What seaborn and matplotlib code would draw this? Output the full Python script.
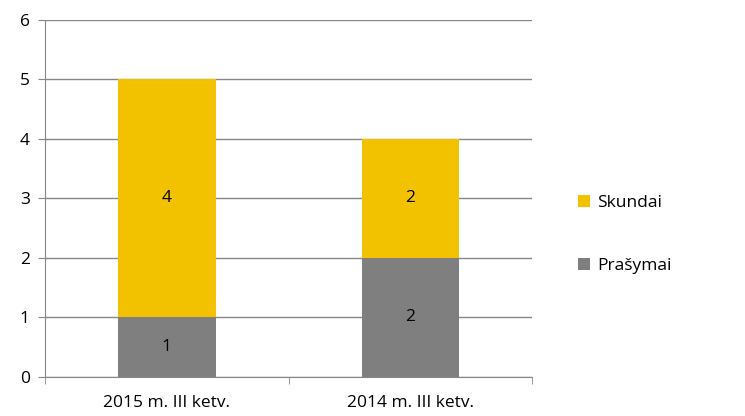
import pandas as pd
import numpy as np
import matplotlib
matplotlib.use("Agg")
import matplotlib.pyplot as plt
import seaborn as sns

# data
categories = ["2015 m. III ketv.", "2014 m. III ketv."]
prasymai = [1, 2]
skundai = [4, 2]

sns.set_style("white")
plt.rcParams["font.family"] = ["Open Sans", "DejaVu Sans"]
plt.rcParams["text.color"] = "black"
plt.rcParams["xtick.color"] = "black"
plt.rcParams["ytick.color"] = "black"

df = pd.DataFrame({"cat": categories, "Prašymai": prasymai, "Skundai": skundai})
df["total"] = df["Prašymai"] + df["Skundai"]

fig = plt.figure(figsize=(7.45, 4.16), dpi=100)
ax = fig.add_axes([0.0604, 0.094, 0.654, 0.858])

yellow = "#F2C200"
gray = "#7F7F7F"

sns.barplot(data=df, x="cat", y="total", color=yellow, width=0.4, ax=ax,
            saturation=1, label="Skundai", linewidth=0)
sns.barplot(data=df, x="cat", y="Prašymai", color=gray, width=0.4, ax=ax,
            saturation=1, label="Prašymai", linewidth=0)

# value labels
for i in range(len(categories)):
    ax.text(i, prasymai[i] / 2, str(prasymai[i]), ha="center", va="center", fontsize=12.5)
    ax.text(i, prasymai[i] + skundai[i] / 2, str(skundai[i]), ha="center", va="center", fontsize=12.5)

ax.set_ylim(0, 6)
ax.set_xlim(-0.5, 1.5)
ax.set_yticks(range(0, 7))
ax.set_xticks([0, 1])
ax.set_xticklabels(categories)
ax.set_xlabel("")
ax.set_ylabel("")
ax.yaxis.grid(True, color="#878787", linewidth=1)
ax.set_axisbelow(True)

for s in ["top", "right"]:
    ax.spines[s].set_visible(False)
ax.spines["left"].set_color("#878787")
ax.spines["bottom"].set_color("#878787")

ax.tick_params(axis="y", length=5, color="#878787", labelsize=12.5, pad=6, left=True)
ax.tick_params(axis="x", length=0, labelsize=12.5, pad=13)
# category boundary ticks on x axis
ax.set_xticks([-0.5, 0.5, 1.5], minor=True)
ax.tick_params(axis="x", which="minor", length=5, color="#878787", bottom=True)

handles, labels = ax.get_legend_handles_labels()
if ax.get_legend() is not None:
    ax.get_legend().remove()
leg = fig.legend(handles, labels, loc="center left", bbox_to_anchor=(0.755, 0.437),
                 frameon=False, fontsize=12.5, handlelength=0.7, handleheight=0.7,
                 labelspacing=2.7, handletextpad=0.4)

fig.savefig("out.png", dpi=100)
